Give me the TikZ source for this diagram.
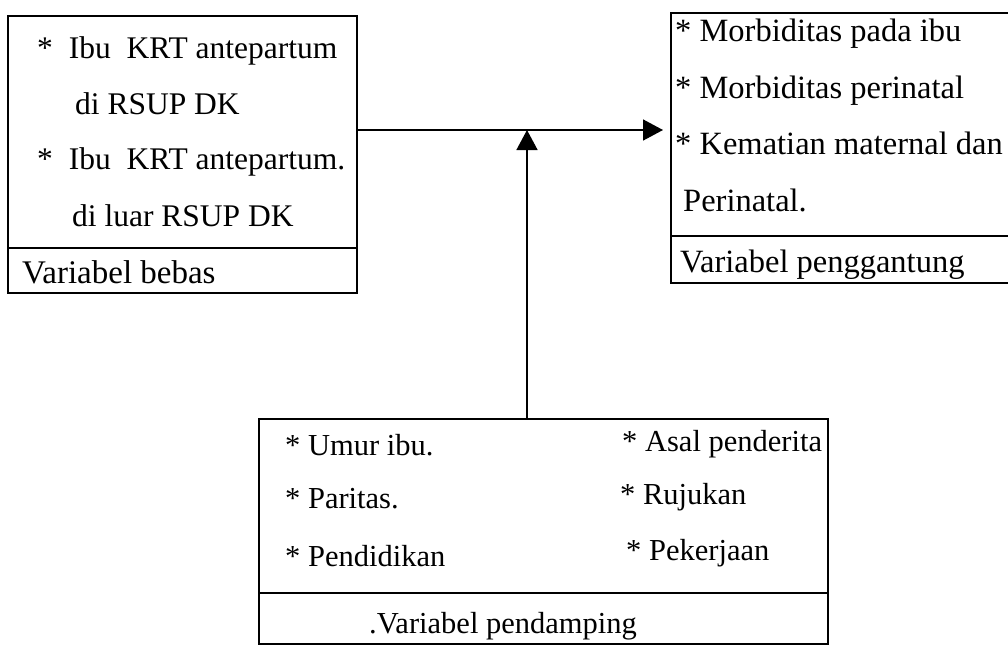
\documentclass[tikz,border=0pt]{standalone}
\usepackage{fontspec}
\setmainfont{Liberation Serif}
\usetikzlibrary{arrows.meta}
\tikzset{
  box/.style={draw, line width=1.5pt, rectangle, inner sep=0pt, anchor=north west},
  txtL/.style={anchor=base west, inner sep=0pt, font=\fontsize{31.5}{38}\selectfont},
  txtR/.style={anchor=base west, inner sep=0pt, font=\fontsize{32.5}{39}\selectfont},
  txtB/.style={anchor=base west, inner sep=0pt, font=\fontsize{30.5}{37}\selectfont},
  lblL/.style={anchor=base west, inner sep=0pt, font=\fontsize{33}{40}\selectfont},
  conn/.style={line width=1.5pt, -{Triangle[length=20pt,width=21pt]}},
  divider/.style={line width=1.5pt}
}
\begin{document}
\begin{tikzpicture}[x=1pt,y=-1pt]
\useasboundingbox (0,0) rectangle (1008,649);
% boxes
\node[box, minimum width=349pt, minimum height=277pt] (bebas) at (7,15) {};
\node[box, minimum width=360pt, minimum height=270pt] (gantung) at (670,12) {};
\node[box, minimum width=569pt, minimum height=225pt] (damping) at (258,418) {};
% dividers
\coordinate (d1) at (0,248);
\coordinate (d2) at (0,236);
\coordinate (d3) at (0,593);
\draw[divider] (bebas.west |- d1) -- (bebas.east |- d1);
\draw[divider] (gantung.west |- d2) -- (gantung.east |- d2);
\draw[divider] (damping.west |- d3) -- (damping.east |- d3);
% left box text
\node[txtL] (l1) at (37,58) {*\hspace{16pt}Ibu\ \ KRT antepartum};
\node[txtL] (l2) at (75,114) {di RSUP DK};
\node[txtL] (l3) at (37,169) {*\hspace{16pt}Ibu\ \ KRT antepartum.};
\node[txtL] (l4) at (72,226) {di luar RSUP DK};
\node[lblL] (l5) at (22,283) {Variabel bebas};
% right box text
\node[txtR] (r1) at (675,41) {* Morbiditas pada ibu};
\node[txtR] (r2) at (675,98) {* Morbiditas perinatal};
\node[txtR] (r3) at (675,154) {* Kematian maternal dan};
\node[txtR] (r4) at (683,211) {Perinatal.};
\node[txtR] (r5) at (680,272) {Variabel penggantung};
% bottom box text
\node[txtB] (b1) at (285,455) {* Umur ibu.};
\node[txtB] (b2) at (285,508) {* Paritas.};
\node[txtB] (b3) at (285,566) {* Pendidikan};
\node[txtB] (b4) at (622,451) {* Asal penderita};
\node[txtB] (b5) at (620,504) {* Rujukan};
\node[txtB] (b6) at (626,560) {* Pekerjaan};
\node[txtB] (b7) at (369,633) {.Variabel pendamping};
% connectors
\coordinate (j) at (527,130);
\coordinate (tipH) at (663,130);
\draw[line width=1.5pt] (bebas.east |- j) -- (j);
\draw[conn] (j) -- (tipH);
\draw[conn] (damping.north -| j) -- (j);
\end{tikzpicture}
\end{document}
